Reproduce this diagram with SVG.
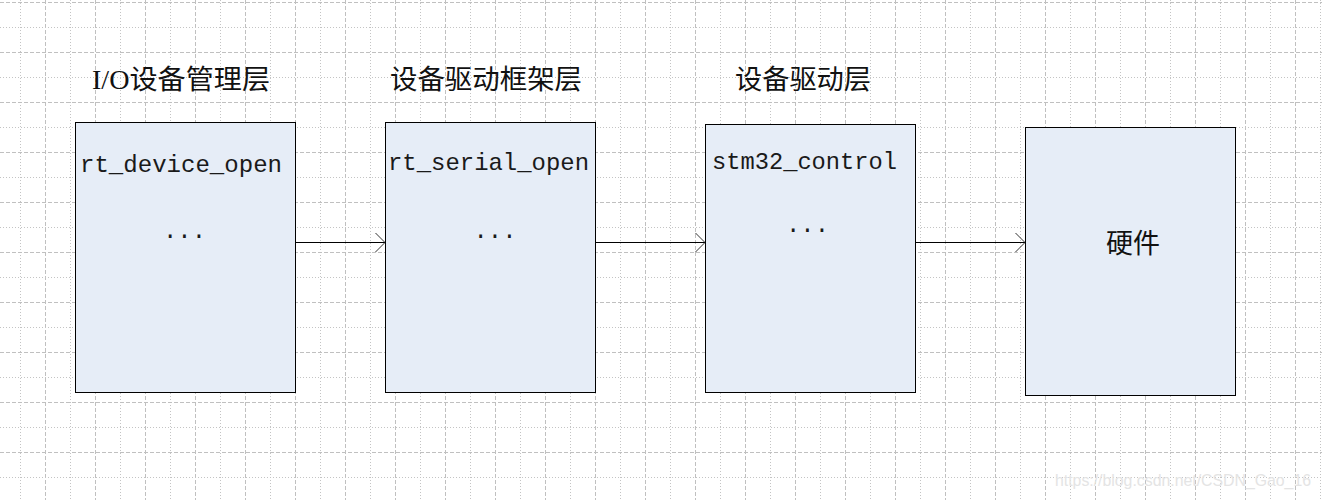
<svg xmlns="http://www.w3.org/2000/svg" width="1322" height="500" viewBox="0 0 1322 500">
  <style>
    .gdot { stroke: #c4c4c4; stroke-width: 1; stroke-dasharray: 1 2; fill: none; }
    .gdash { stroke: #c0c0c0; stroke-width: 1; stroke-dasharray: 4 2; fill: none; }
    .box { fill: #e6edf7; stroke: #000; stroke-width: 1; }
    .head { font-family: "Liberation Serif", "Noto Sans CJK SC", serif; font-size: 27px; fill: #111; }
    .code { font-family: "Liberation Mono", "Noto Sans CJK SC", monospace; font-size: 24px; fill: #1a1a1a; }
    .edge { stroke: #000; stroke-width: 1; fill: none; marker-end: url(#open); }
    .wm { font-family: "Liberation Sans", sans-serif; font-size: 16px; fill: #e4e4e4; }
  </style>
  <defs>
    <marker id="open" markerUnits="userSpaceOnUse" markerWidth="12" markerHeight="22" refX="10.5" refY="10.5" orient="auto" viewBox="0 0 12 22">
      <path d="M1,1 L10.5,10.5 L1,20" fill="none" stroke="#333" stroke-width="1"/>
    </marker>
  </defs>
  <rect width="1322" height="500" fill="#fff"/>
  <g id="grid">
    <path class="gdot" d="M20.5,0V500M70.5,0V500M120.5,0V500M170.5,0V500M220.5,0V500M270.5,0V500M320.5,0V500M370.5,0V500M420.5,0V500M470.5,0V500M520.5,0V500M570.5,0V500M620.5,0V500M670.5,0V500M720.5,0V500M770.5,0V500M820.5,0V500M870.5,0V500M920.5,0V500M970.5,0V500M1020.5,0V500M1070.5,0V500M1120.5,0V500M1170.5,0V500M1220.5,0V500M1270.5,0V500M1320.5,0V500"/>
    <path class="gdash" d="M45.5,0V500M95.5,0V500M145.5,0V500M195.5,0V500M245.5,0V500M295.5,0V500M345.5,0V500M395.5,0V500M445.5,0V500M495.5,0V500M545.5,0V500M595.5,0V500M645.5,0V500M695.5,0V500M745.5,0V500M795.5,0V500M845.5,0V500M895.5,0V500M945.5,0V500M995.5,0V500M1045.5,0V500M1095.5,0V500M1145.5,0V500M1195.5,0V500M1245.5,0V500M1295.5,0V500"/>
    <path class="gdot" d="M0,27.5H1322M0,77.5H1322M0,127.5H1322M0,177.5H1322M0,227.5H1322M0,277.5H1322M0,327.5H1322M0,377.5H1322M0,427.5H1322M0,477.5H1322"/>
    <path class="gdash" d="M0,2.5H1322M0,52.5H1322M0,102.5H1322M0,152.5H1322M0,202.5H1322M0,252.5H1322M0,302.5H1322M0,352.5H1322M0,402.5H1322M0,452.5H1322"/>
  </g>
  <g id="connectors">
    <line class="edge" x1="295.5" y1="242.5" x2="385" y2="242.5"/>
    <line class="edge" x1="595.5" y1="242.5" x2="705" y2="242.5"/>
    <line class="edge" x1="915.5" y1="242.5" x2="1025" y2="242.5"/>
  </g>
  <g id="io-manager">
    <text class="head" x="92" y="89" textLength="178" lengthAdjust="spacingAndGlyphs">I/O设备管理层</text>
    <rect class="box" x="75.5" y="122.5" width="220" height="270"/>
    <text class="code" x="80" y="172" textLength="202" lengthAdjust="spacingAndGlyphs">rt_device_open</text>
    <text class="code" x="163" y="238" textLength="43" lengthAdjust="spacingAndGlyphs">...</text>
  </g>
  <g id="driver-framework">
    <text class="head" x="390" y="89" textLength="192" lengthAdjust="spacingAndGlyphs">设备驱动框架层</text>
    <rect class="box" x="385.5" y="122.5" width="210" height="270"/>
    <text class="code" x="388" y="170" textLength="201" lengthAdjust="spacingAndGlyphs">rt_serial_open</text>
    <text class="code" x="473.5" y="238" textLength="43" lengthAdjust="spacingAndGlyphs">...</text>
  </g>
  <g id="driver">
    <text class="head" x="735" y="89" textLength="136" lengthAdjust="spacingAndGlyphs">设备驱动层</text>
    <rect class="box" x="705.5" y="124.5" width="210" height="268"/>
    <text class="code" x="712" y="169" textLength="185" lengthAdjust="spacingAndGlyphs">stm32_control</text>
    <text class="code" x="786" y="232" textLength="43" lengthAdjust="spacingAndGlyphs">...</text>
  </g>
  <g id="hardware">
    <rect class="box" x="1025.5" y="127.5" width="210" height="268"/>
    <text class="head" x="1106" y="253" textLength="54" lengthAdjust="spacingAndGlyphs">硬件</text>
  </g>
  <text class="wm" x="1055" y="486" textLength="256" lengthAdjust="spacingAndGlyphs">https://blog.csdn.net/CSDN_Gao_16</text>
</svg>
